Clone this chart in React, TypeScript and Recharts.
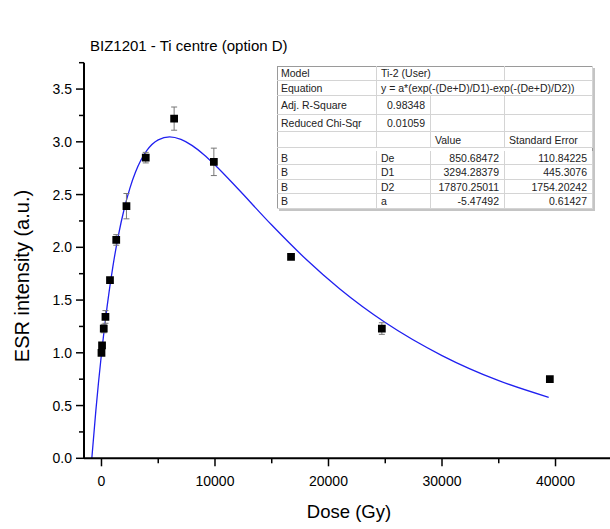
import { ComposedChart, Line, Scatter, XAxis, YAxis, ZAxis, ErrorBar } from "recharts";

// measured points (dose in Gy, ESR intensity in a.u.)
const doses = [0, 50, 200, 350, 750, 1300, 2200, 3900, 6400, 9900, 16700, 24700, 39500];
const intensities = [1.0, 1.07, 1.23, 1.34, 1.69, 2.07, 2.39, 2.85, 3.22, 2.81, 1.91, 1.23, 0.75];
const errors = [0.02, 0.02, 0.04, 0.06, 0.02, 0.05, 0.12, 0.05, 0.11, 0.13, 0.015, 0.055, 0.01];

// fitted curve
const fitDoses = [-850, -500, 0, 500, 1000, 1500, 2000, 2500, 3000, 4000, 5000, 6000, 7000, 8000, 9000, 10000, 12000, 15000, 18000, 21000, 25000, 30000, 35000, 39400];
const fitValues = [0, 0.447, 0.991, 1.443, 1.815, 2.118, 2.363, 2.559, 2.713, 2.918, 3.019, 3.047, 3.023, 2.964, 2.88, 2.78, 2.557, 2.211, 1.889, 1.605, 1.287, 0.974, 0.736, 0.578];

const xTicks = [0, 5000, 10000, 15000, 20000, 25000, 30000, 35000, 40000];
const yTicks = [0, 0.25, 0.5, 0.75, 1, 1.25, 1.5, 1.75, 2, 2.25, 2.5, 2.75, 3, 3.25, 3.5, 3.75];

const tableLabels = ["Model", "Equation", "Adj. R-Square", "Reduced Chi-Sqr"];
const tableInfo = ["Ti-2 (User)", "y = a*(exp(-(De+D)/D1)-exp(-(De+D)/D2))", "0.98348", "0.01059"];
const paramNames = ["De", "D1", "D2", "a"];
const paramValues = ["850.68472", "3294.28379", "17870.25011", "-5.47492"];
const paramErrors = ["110.84225", "445.3076", "1754.20242", "0.61427"];

const points = doses.map((x, i) => ({ x, y: intensities[i], err: errors[i] }));
const curve = fitDoses.map((x, i) => ({ x, y: fitValues[i] }));

const FONT = '"Liberation Sans", Arial, sans-serif';

const XTick = ({ x, y, payload }: any) => {
    const major = payload.value % 10000 === 0;
    return (
        <g>
            <line x1={x} x2={x} y1={y} y2={y + (major ? 8 : 5)} stroke="#000" strokeWidth={1.5} />
            {major && (
                <text x={x} y={y + 28} textAnchor="middle" fontSize={14} fill="#000" fontFamily={FONT}>
                    {payload.value}
                </text>
            )}
        </g>
    );
};

const YTick = ({ x, y, payload }: any) => {
    const major = Math.abs(payload.value * 2 - Math.round(payload.value * 2)) < 1e-6;
    return (
        <g>
            <line x1={x} x2={x - (major ? 8 : 5)} y1={y} y2={y} stroke="#000" strokeWidth={1.5} />
            {major && (
                <text x={x - 12} y={y + 5} textAnchor="end" fontSize={14} fill="#000" fontFamily={FONT}>
                    {payload.value.toFixed(1)}
                </text>
            )}
        </g>
    );
};

const cols = [277, 377, 431, 505, 593];

const Cell = ({ left, right, top, height, text, align = "left" }: any) => (
    <div
        style={{
            position: "absolute",
            left,
            top,
            width: right - left,
            height,
            boxSizing: "border-box",
            borderRight: "1px solid #d4d4d4",
            borderBottom: "1px solid #d4d4d4",
            padding: align === "left" ? "0 0 0 4px" : "0 5px 0 0",
            textAlign: align,
            lineHeight: `${height}px`,
            fontSize: 10.5,
            color: "#222",
            whiteSpace: "nowrap",
            overflow: "hidden",
        }}
    >
        {text}
    </div>
);

const FitTable = () => {
    const topRows = [
        { top: 65.5, h: 15 },
        { top: 80.5, h: 15 },
        { top: 95.5, h: 19.5 },
        { top: 115, h: 17 },
    ];
    return (
        <div
            style={{
                position: "absolute",
                left: cols[0],
                top: 65.5,
                width: cols[4] - cols[0],
                height: 143,
                background: "#fff",
                border: "1px solid #9a9a9a",
                boxShadow: "2px 2px 0 #c4c4c4",
                boxSizing: "border-box",
                fontFamily: FONT,
            }}
        >
            <div style={{ position: "absolute", left: -cols[0] - 1, top: -66.5 }}>
                {topRows.map((r, i) => (
                    <div key={i}>
                        <Cell left={cols[0]} right={cols[1]} top={r.top} height={r.h} text={tableLabels[i]} />
                        {i === 0 && <Cell left={cols[1]} right={cols[3]} top={r.top} height={r.h} text={tableInfo[0]} />}
                        {i === 0 && <Cell left={cols[3]} right={cols[4]} top={r.top} height={r.h} text="" />}
                        {i === 1 && <Cell left={cols[1]} right={cols[4]} top={r.top} height={r.h} text={tableInfo[1]} />}
                        {i >= 2 && <Cell left={cols[1]} right={cols[2]} top={r.top} height={r.h} text={tableInfo[i]} align="right" />}
                        {i >= 2 && <Cell left={cols[2]} right={cols[3]} top={r.top} height={r.h} text="" />}
                        {i >= 2 && <Cell left={cols[3]} right={cols[4]} top={r.top} height={r.h} text="" />}
                    </div>
                ))}
                <Cell left={cols[0]} right={cols[1]} top={132} height={16} text="" />
                <Cell left={cols[1]} right={cols[2]} top={132} height={16} text="" />
                <Cell left={cols[2]} right={cols[3]} top={132} height={16} text="Value" />
                <Cell left={cols[3]} right={cols[4]} top={132} height={16} text="Standard Error" />
                {paramNames.map((p, i) => {
                    const top = 151 + i * 14.4;
                    return (
                        <div key={p}>
                            <Cell left={cols[0]} right={cols[1]} top={top} height={14.4} text="B" />
                            <Cell left={cols[1]} right={cols[2]} top={top} height={14.4} text={p} />
                            <Cell left={cols[2]} right={cols[3]} top={top} height={14.4} text={paramValues[i]} align="right" />
                            <Cell left={cols[3]} right={cols[4]} top={top} height={14.4} text={paramErrors[i]} align="right" />
                        </div>
                    );
                })}
            </div>
        </div>
    );
};

export default function App() {
    return (
        <div style={{ position: "absolute", left: 0, top: 0, width: 610, height: 529, background: "#fff", fontFamily: FONT }}>
            <ComposedChart
                width={610}
                height={529}
                data={curve}
                margin={{ top: 62.7, right: 0, bottom: 40.7, left: 24 }}
            >
                <XAxis
                    type="number"
                    dataKey="x"
                    domain={[-1540, 44800]}
                    allowDataOverflow
                    ticks={xTicks}
                    interval={0}
                    height={30}
                    tickSize={0}
                    tickMargin={0}
                    tickLine={false}
                    axisLine={{ stroke: "#000", strokeWidth: 2 }}
                    tick={<XTick />}
                />
                <YAxis
                    type="number"
                    dataKey="y"
                    domain={[0, 3.75]}
                    allowDataOverflow
                    ticks={yTicks}
                    interval={0}
                    width={60}
                    tickSize={0}
                    tickMargin={0}
                    tickLine={false}
                    axisLine={{ stroke: "#000", strokeWidth: 2 }}
                    tick={<YTick />}
                />
                <ZAxis range={[60, 60]} />
                <Line
                    type="monotone"
                    dataKey="y"
                    stroke="#2020f0"
                    strokeWidth={1.3}
                    dot={false}
                    activeDot={false}
                    isAnimationActive={false}
                />
                <Scatter data={points} dataKey="y" fill="#000" shape="square" isAnimationActive={false}>
                    <ErrorBar dataKey="err" direction="y" width={3} stroke="#777" strokeWidth={1} />
                </Scatter>
            </ComposedChart>
            <svg width={610} height={529} style={{ position: "absolute", left: 0, top: 0, pointerEvents: "none" }}>
                <text x={90} y={51} fontSize={15} fontFamily={FONT} fill="#000">
                    BIZ1201 - Ti centre (option D)
                </text>
                <text
                    transform="translate(29,276) rotate(-90)"
                    textAnchor="middle"
                    fontSize={20}
                    fontFamily={FONT}
                    fill="#000"
                >
                    ESR intensity (a.u.)
                </text>
                <text x={349} y={518} textAnchor="middle" fontSize={18.5} fontFamily={FONT} fill="#000">
                    Dose (Gy)
                </text>
            </svg>
            <FitTable />
        </div>
    );
}
